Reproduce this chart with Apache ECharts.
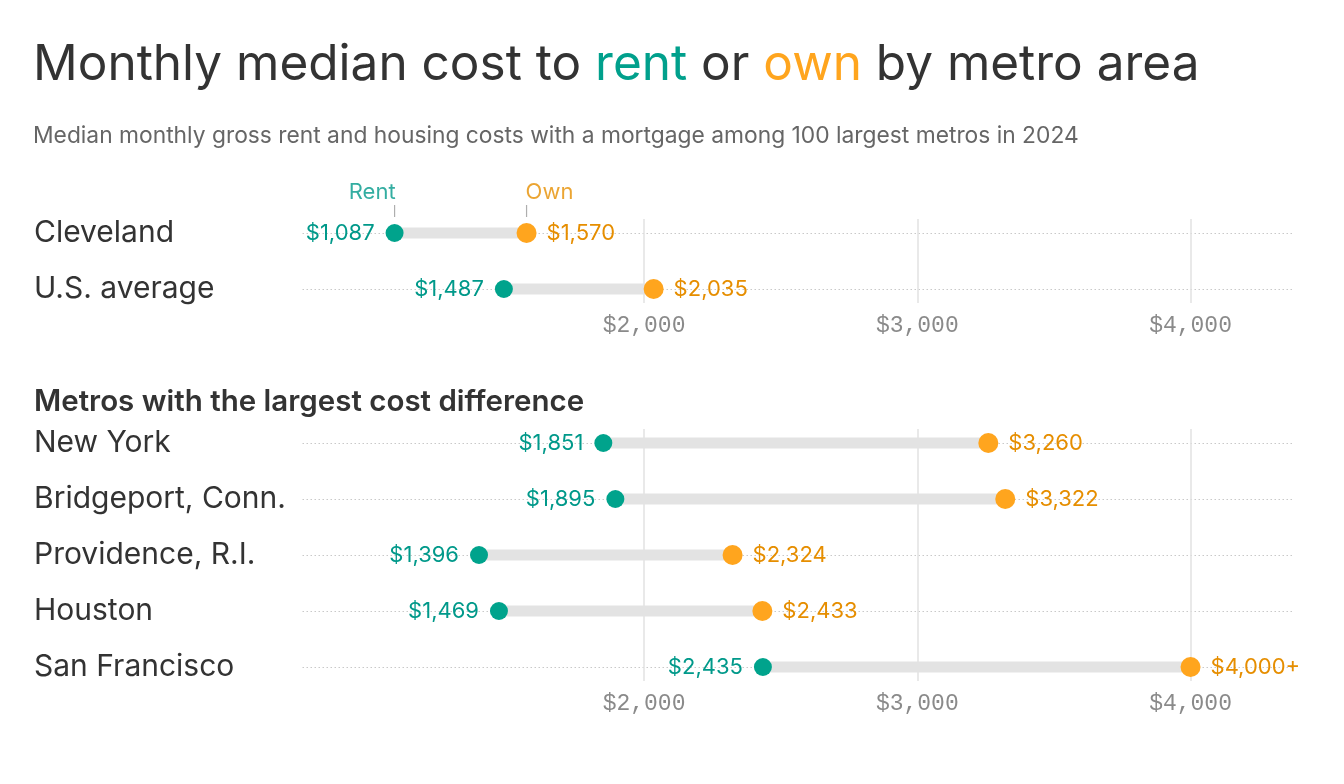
<!DOCTYPE html>
<html>
<head>
<meta charset="utf-8">
<script src="https://cdn.jsdelivr.net/npm/echarts@6/dist/echarts.min.js"></script>
<style>
html,body{margin:0;padding:0;background:#fff;}
#chart{width:1344px;height:784px;}
</style>
</head>
<body>
<div id="chart"></div>
<script>
// ---- data ----
const topCats = ['Cleveland', 'U.S. average'];
const topRent = [1087, 1487];
const topOwn = [1570, 2035];

const metroCats = ['New York', 'Bridgeport, Conn.', 'Providence, R.I.', 'Houston', 'San Francisco'];
const metroRent = [1851, 1895, 1396, 1469, 2435];
const metroOwn = [3260, 3322, 2324, 2433, 4000];

const xTicks = [2000, 3000, 4000];
const legendLabels = ['Rent', 'Own'];

// ---- styles ----
const TEAL = '#00a38c';
const TEAL_TXT = '#00998a';
const ORANGE = '#ffa51e';
const ORANGE_TXT = '#e68e00';
const SANS = 'Inter, "Noto Sans", sans-serif';
const MONO = '"Liberation Mono", "DejaVu Sans Mono", monospace';

const X_MIN = 750, X_MAX = 4375, X_INT = 250;
const GRID_LEFT = 302.5, GRID_RIGHT = 51;

function money(v) {
  return '$' + Number(v).toLocaleString('en-US');
}

function xAxisDef(gridIndex) {
  return {
    type: 'value', gridIndex: gridIndex, min: X_MIN, max: X_MAX, interval: X_INT,
    axisLine: {show: false}, axisTick: {show: false}, splitLine: {show: false},
    axisLabel: {
      margin: 11,
      color: '#8a8a8a', fontFamily: MONO, fontSize: 23,
      formatter: v => xTicks.includes(v) ? money(v) : ''
    }
  };
}
function yAxisDef(gridIndex, cats) {
  return {
    type: 'value', gridIndex: gridIndex, inverse: true,
    min: -0.25, max: cats.length - 0.75, interval: 0.25,
    axisLine: {show: false}, axisTick: {show: false}, splitLine: {show: false},
    axisLabel: {
      align: 'left', margin: GRID_LEFT - 34,
      color: '#333', fontFamily: SANS, fontSize: 30,
      formatter: v => (Math.abs(v - Math.round(v)) < 1e-6 && cats[Math.round(v)] !== undefined) ? cats[Math.round(v)] : ''
    }
  };
}

function panelSeries(idx, cats, rent, own, ownFmt) {
  const list = [];
  // guide lines (dotted rows + vertical tick lines)
  list.push({
    type: 'scatter', xAxisIndex: idx, yAxisIndex: idx, data: [], silent: true,
    markLine: {
      silent: true, symbol: 'none', z: 1, animation: false,
      label: {show: false},
      data: cats.map((c, i) => ({yAxis: i, lineStyle: {type: [1.5, 2.5], color: '#c9c9c9', width: 1}}))
        .concat(xTicks.map(t => ({xAxis: t, lineStyle: {type: 'solid', color: '#e2e2e2', width: 1.5}})))
    }
  });
  // connecting bars
  list.push({
    type: 'custom', xAxisIndex: idx, yAxisIndex: idx, z: 3, silent: true,
    data: rent.map((r, i) => [r, own[i], i]),
    encode: {x: [0, 1], y: 2},
    renderItem: function (params, api) {
      const p1 = api.coord([api.value(0), api.value(2)]);
      const p2 = api.coord([api.value(1), api.value(2)]);
      return {type: 'rect', shape: {x: p1[0], y: p1[1] - 5.5, width: p2[0] - p1[0], height: 11},
        style: {fill: '#e3e3e3'}};
    }
  });
  list.push({
    type: 'scatter', xAxisIndex: idx, yAxisIndex: idx, z: 5,
    symbolSize: 18, itemStyle: {color: TEAL, opacity: 1},
    data: rent.map((r, i) => [r, i]),
    label: {show: true, position: 'left', distance: 11, color: TEAL_TXT, fontFamily: SANS, fontSize: 22,
      formatter: p => money(p.value[0])}
  });
  list.push({
    type: 'scatter', xAxisIndex: idx, yAxisIndex: idx, z: 6,
    symbolSize: 20, itemStyle: {color: ORANGE, opacity: 1},
    data: own.map((o, i) => [o, i]),
    label: {show: true, position: 'right', distance: 10, color: ORANGE_TXT, fontFamily: SANS, fontSize: 22,
      formatter: p => ownFmt(p.value[0])}
  });
  return list;
}

const series = []
  .concat(panelSeries(0, topCats, topRent, topOwn, v => money(v)))
  .concat(panelSeries(1, metroCats, metroRent, metroOwn, v => v >= 4000 ? money(v) + '+' : money(v)));

// Rent / Own key above Cleveland
series.push({
  type: 'scatter', xAxisIndex: 0, yAxisIndex: 0, z: 6, silent: true,
  symbol: 'rect', symbolSize: [1.2, 12], symbolOffset: [0, -22],
  itemStyle: {color: '#9a9a9a'},
  data: [
    {value: [topRent[0], 0], label: {align: 'right', color: TEAL_TXT, formatter: legendLabels[0], offset: [1, 0]}},
    {value: [topOwn[0], 0], label: {align: 'left', color: ORANGE_TXT, formatter: legendLabels[1], offset: [-1, 0]}}
  ],
  label: {show: true, position: 'top', distance: 2, fontFamily: SANS, fontSize: 22}
});

const option = {
  backgroundColor: '#fff',
  animation: false,
  title: [
    {
      text: '{a|Monthly median cost to }{r|rent}{a| or }{o|own}{a| by metro area}',
      left: 28, top: 35,
      textStyle: {
        rich: {
          a: {fontFamily: SANS, fontSize: 49.5, fontWeight: 'normal', color: '#333'},
          r: {fontFamily: SANS, fontSize: 49.5, fontWeight: 'normal', color: '#00a08c'},
          o: {fontFamily: SANS, fontSize: 49.5, fontWeight: 'normal', color: '#ffa51e'}
        }
      }
    },
    {
      text: 'Median monthly gross rent and housing costs with a mortgage among 100 largest metros in 2024',
      left: 28, top: 120,
      textStyle: {fontFamily: SANS, fontSize: 22.8, fontWeight: 'normal', color: '#666'}
    },
    {
      text: 'Metros with the largest cost difference',
      left: 29, top: 382,
      textStyle: {fontFamily: SANS, fontSize: 29.5, fontWeight: 600, color: '#333'}
    }
  ],
  grid: [
    {left: GRID_LEFT, right: GRID_RIGHT, top: 219, height: 84},
    {left: GRID_LEFT, right: GRID_RIGHT, top: 429, height: 252}
  ],
  xAxis: [xAxisDef(0), xAxisDef(1)],
  yAxis: [yAxisDef(0, topCats), yAxisDef(1, metroCats)],
  series: series
};

const chart = echarts.init(document.getElementById('chart'), null, {renderer: 'canvas'});
chart.setOption(option);
</script>
</body>
</html>
